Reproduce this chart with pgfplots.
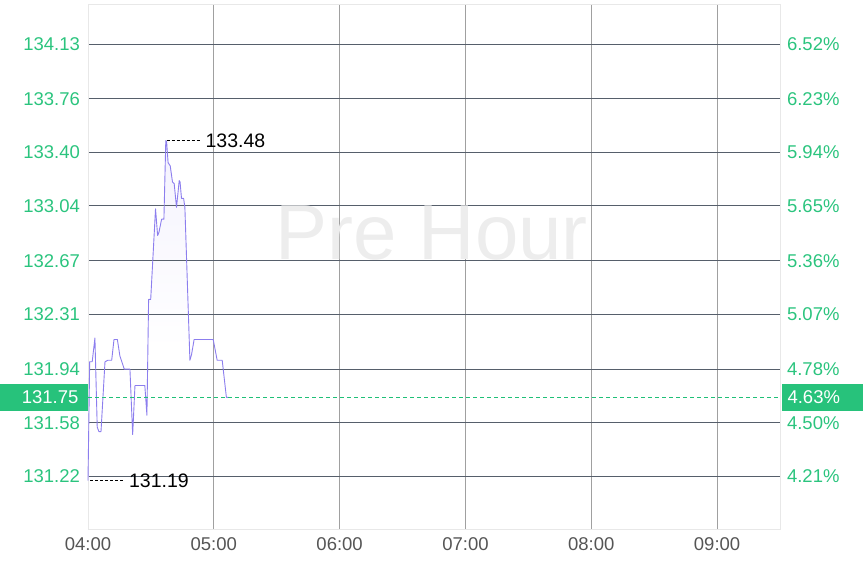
\documentclass[border=0pt]{standalone}
\usepackage{pgfplots}
\pgfplotsset{compat=1.18}
\usepackage{fontspec}
\setmainfont{Liberation Sans}
\definecolor{tgreen}{HTML}{2BC47E}
\definecolor{dgreen}{HTML}{1FC077}
\definecolor{boxgreen}{HTML}{27C27B}
\definecolor{pline}{HTML}{8C7EEE}
\definecolor{pfill}{HTML}{EAE7FC}
\definecolor{hgrid}{HTML}{565F6B}
\definecolor{vgrid}{HTML}{A0A0A0}
\definecolor{bord}{HTML}{E8E8E8}
\definecolor{wm}{HTML}{EDEDED}
\definecolor{tgray}{HTML}{555555}
\pgfdeclareverticalshading{fade}{100bp}{color(0bp)=(white); color(48bp)=(white); color(100bp)=(pfill)}
\pgfplotstableread{
m p
0 131.19
0.8 131.99
2.0 131.99
3.3 132.15
4.4 131.55
5.2 131.52
6.2 131.52
8.1 131.99
9.5 132.00
11.3 132.00
12.4 132.14
14.0 132.14
15.2 132.03
17.3 131.94
20.0 131.94
21.3 131.50
22.4 131.83
27.1 131.83
28.1 131.63
28.9 132.41
29.9 132.41
32.2 133.02
33.2 132.84
33.8 132.86
35.1 132.95
36.2 132.95
37.1 133.48
37.5 133.47
38.2 133.33
39.2 133.31
40.3 133.20
41.1 133.19
42.2 133.03
43.5 133.21
43.9 133.20
44.6 133.09
45.6 133.09
46.2 133.03
48.6 132.00
49.4 132.04
50.6 132.14
59.7 132.14
61.6 132.00
64.0 132.00
66.0 131.75
67.1 131.75
}\price
\begin{document}
\begin{tikzpicture}
\begin{axis}[at={(88pt,32pt)}, anchor=south west, scale only axis,
  width=692pt, height=525pt,
  xmin=0, xmax=330, ymin=130.864, ymax=134.399,
  set layers, clip=false,
  xtick={0,60,120,180,240,300},
  xticklabels={04:00,05:00,06:00,07:00,08:00,09:00},
  minor xtick={60,120,180,240,300}, xminorgrids,
  minor grid style={vgrid, line width=0.8pt},
  ytick={131.22,131.58,131.94,132.31,132.67,133.04,133.40,133.76,134.13},
  yticklabels={131.22,131.58,131.94,132.31,132.67,133.04,133.40,133.76,134.13},
  ymajorgrids, major grid style={hgrid, line width=0.8pt},
  major tick length=0pt, minor tick length=0pt,
  axis line style={bord, line width=0.8pt},
  tick label style={font=\fontsize{18.5}{20}\selectfont},
  yticklabel style={tgreen, xshift=-4.5pt},
  xticklabel style={tgray, yshift=-5.5pt},
]
\node[wm, font=\fontsize{78}{80}\selectfont] at (axis cs:164,132.86) {Pre Hour};
\addplot[draw=none, shading=fade, on layer=axis background] table[x=m,y=p] {\price} \closedcycle;
\addplot[pline, line width=0.9pt, line join=round] table[x=m,y=p] {\price};
\addplot[color=dgreen, line width=1.1pt, dash pattern=on 4pt off 3pt, mark=none] coordinates {(0,131.75) (330,131.75)};
\fill[boxgreen] (axis cs:0,131.75) ++(-88pt,-13.5pt) rectangle ++(88pt,27pt);
\node[anchor=east, white, font=\fontsize{18.5}{20}\selectfont] at ([xshift=-6pt]axis cs:0,131.75) {131.75};
\fill[boxgreen] (axis cs:330,131.75) ++(2pt,-13.5pt) rectangle ++(83pt,27pt);
\node[anchor=west, white, font=\fontsize{18.5}{20}\selectfont] at ([xshift=4pt]axis cs:330,131.75) {4.63\%};
\draw[black, line width=0.7pt, dash pattern=on 3pt off 2pt] (axis cs:37.5,133.48) -- (axis cs:53.8,133.48);
\node[anchor=west, black, inner sep=0pt, font=\fontsize{19.5}{21}\selectfont] at (axis cs:56,133.48) {133.48};
\draw[black, line width=0.7pt, dash pattern=on 3pt off 2pt] (axis cs:1,131.19) -- (axis cs:17.2,131.19);
\node[anchor=west, black, inner sep=0pt, font=\fontsize{19.5}{21}\selectfont] at (axis cs:19.5,131.19) {131.19};
\end{axis}
\begin{axis}[at={(88pt,32pt)}, anchor=south west, scale only axis,
  width=692pt, height=525pt,
  xmin=0, xmax=330, ymin=130.864, ymax=134.399,
  axis y line*=right, axis x line*=bottom,
  axis line style={draw=none}, xtick=\empty,
  ytick={131.22,131.58,131.94,132.31,132.67,133.04,133.40,133.76,134.13},
  yticklabels={4.21\%,4.50\%,4.78\%,5.07\%,5.36\%,5.65\%,5.94\%,6.23\%,6.52\%},
  major tick length=0pt,
  tick label style={font=\fontsize{18.5}{20}\selectfont},
  yticklabel style={tgreen, xshift=3.5pt},
]
\addplot[draw=none] coordinates {(0,131.75)};
\end{axis}
\pgfresetboundingbox
\path[use as bounding box] (0pt,0pt) rectangle (863pt,561pt);
\end{tikzpicture}
\end{document}
